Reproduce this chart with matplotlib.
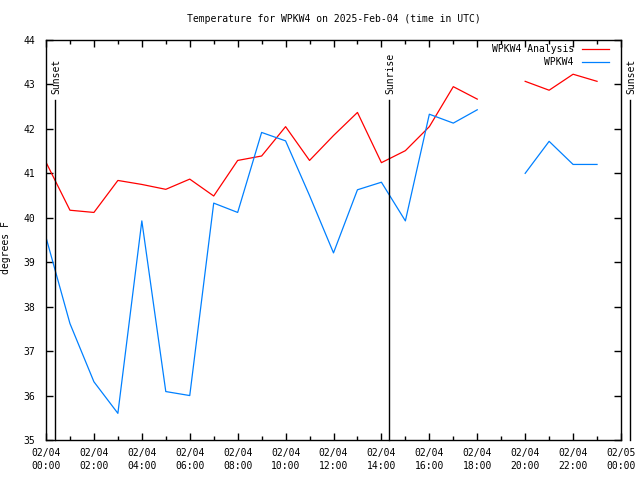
import numpy as np
import matplotlib
matplotlib.use("Agg")
import matplotlib.pyplot as plt
from matplotlib.ticker import MultipleLocator

# hourly values, 2025-02-04 UTC (hour 19 missing)
hours = list(range(24))
analysis = [41.25, 40.17, 40.12, 40.84, 40.75, 40.64, 40.87, 40.49, 41.29, 41.39,
            42.05, 41.29, 41.85, 42.37, 41.24, 41.51, 42.05, 42.95, 42.67, np.nan,
            43.07, 42.87, 43.23, 43.07]
observed = [39.56, 37.62, 36.31, 35.60, 39.93, 36.09, 36.00, 40.33, 40.12, 41.92,
            41.73, 40.50, 39.21, 40.63, 40.80, 39.93, 42.33, 42.13, 42.43, np.nan,
            41.00, 41.72, 41.20, 41.20]
events = [(0.376, "Sunset"), (14.32, "Sunrise"), (24.38, "Sunset")]
tick_hours = list(range(0, 25, 2))
tick_labels = ["02/04\n%02d:00" % h for h in tick_hours[:-1]] + ["02/05\n00:00"]

plt.rcParams['font.family'] = 'DejaVu Sans Mono'
plt.rcParams['font.size'] = 7

fig = plt.figure(figsize=(6.4, 4.8), dpi=100)
ax = fig.add_axes([46/640, 40/480, 575/640, 400/480])

red = "#ff0000"
blue = "#0080ff"
ax.plot(hours, analysis, color=red, lw=0.9)
ax.plot(hours, observed, color=blue, lw=0.9)

for t, name in events:
	ax.plot([t, t], [35, 42.65], color="black", lw=1, clip_on=False)
	ax.text(t + 0.05, 42.78, name, rotation=90, ha="center", va="bottom", clip_on=False)

ax.set_xlim(0, 24)
ax.set_ylim(35, 44)
ax.set_xticks(tick_hours)
ax.set_xticklabels(tick_labels, linespacing=1.3)
ax.xaxis.set_minor_locator(MultipleLocator(1))
ax.set_yticks(range(35, 45))
ax.tick_params(which="both", direction="in", top=True, right=True, width=1)
ax.tick_params(which="major", length=5)
ax.tick_params(which="minor", length=3)
ax.tick_params(axis="x", pad=6)
ax.tick_params(axis="y", pad=8)
for s in ax.spines.values():
	s.set_linewidth(1)

ax.set_ylabel("degrees F")
ax.yaxis.set_label_coords(-0.061, 0.48)

fig.text(333.5/640, 1 - 19/480, "Temperature for WPKW4 on 2025-Feb-04 (time in UTC)",
	ha="center", va="center")

# legend, text right-aligned before the sample line
for yy, lab, col in [(0.977, "WPKW4 Analysis", red), (0.944, "WPKW4", blue)]:
	ax.text(0.918, yy, lab, transform=ax.transAxes, ha="right", va="center")
	ax.plot([0.932, 0.979], [yy, yy], transform=ax.transAxes, color=col, lw=0.9)

fig.savefig("out.png", dpi=100)
